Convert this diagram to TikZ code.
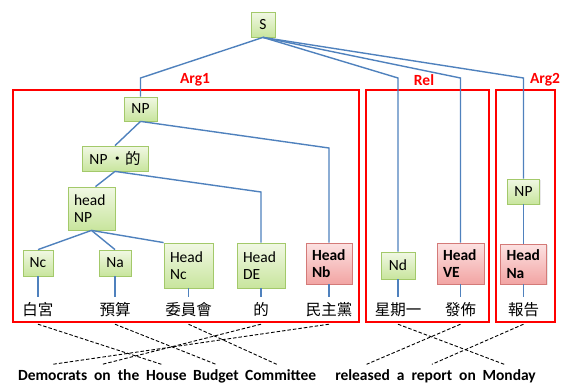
\documentclass[tikz,border=0pt]{standalone}
\usepackage{fontspec}
\setmainfont{Carlito}
\newfontfamily\cjk{Noto Sans CJK TC}
\usetikzlibrary{shadows}

\definecolor{treeblue}{HTML}{4F81BD}
\definecolor{catfillA}{HTML}{F1F8E4}
\definecolor{catfillB}{HTML}{C8E59D}
\definecolor{catedge}{HTML}{A3C96A}
\definecolor{headfillA}{HTML}{FCE2E2}
\definecolor{headfillB}{HTML}{F2A4A3}
\definecolor{headedge}{HTML}{D47A78}

\tikzset{
  basefont/.style={font=\fontsize{15.5}{17.5}\selectfont},
  wh/.style 2 args={minimum width=#1, minimum height=#2},
  catbox/.style={basefont, draw=catedge, line width=0.8pt,
    top color=catfillA, bottom color=catfillB, inner sep=0pt,
    drop shadow={shadow xshift=1pt, shadow yshift=-1pt, opacity=0.18}},
  headbox/.style={draw=headedge, line width=0.8pt,
    top color=headfillA, bottom color=headfillB, inner sep=0pt,
    font=\fontsize{15.5}{17.5}\selectfont\bfseries,
    drop shadow={shadow xshift=1pt, shadow yshift=-1pt, opacity=0.18}},
  twoline/.style={align=left, text width=#1, inner xsep=6pt},
  tree/.style={draw=treeblue, line width=1.4pt},
  argframe/.style={draw=red, line width=2.4pt},
  arglabel/.style={text=red, font=\fontsize{15.5}{17}\selectfont\bfseries, inner sep=0pt},
  zhword/.style={font=\fontsize{15.5}{17}\selectfont\cjk, anchor=base,
    inner xsep=0pt, inner ysep=5pt, text height=13pt, text depth=4pt},
  enword/.style={font=\fontsize{15.5}{17}\selectfont\bfseries, anchor=base,
    inner xsep=0pt, inner ysep=5pt, text height=11pt, text depth=3pt},
  align link/.style={draw=black, dashed, dash pattern=on 3.5pt off 2pt, line width=0.9pt},
}

\begin{document}
\begin{tikzpicture}[x=1pt, y=-1pt]
\useasboundingbox (0,0) rectangle (563,383);

% role frames and their labels
\draw[argframe] (13,90) rectangle (359,322);
\draw[argframe] (366,90) rectangle (489,322);
\draw[argframe] (496,90) rectangle (555,322);
\node[arglabel] (lArgA) at (195,80) {Arg1};
\node[arglabel] (lRel)  at (424,80) {Rel};
\node[arglabel] (lArgB) at (545,80) {Arg2};

% phrase-structure nodes
\node[catbox, wh={24}{25}] (S) at (263,24.5) {S};
\node[catbox, wh={33}{24}] (NP) at (140.5,109) {NP};
\node[catbox, wh={66}{25}] (NPde) at (115,158.5) {NP\hspace{2pt}{\cjk ・的}};
\node[catbox, twoline={35pt}, wh={47}{43}] (hNP) at (91.5,208.5) {head\\NP};
\node[catbox, wh={30}{26}] (Nc) at (38,263) {Nc};
\node[catbox, wh={32}{26}] (Na) at (115,263) {Na};
\node[catbox, twoline={37pt}, wh={49}{45}] (HNc) at (188.5,265.5) {Head\\Nc};
\node[catbox, twoline={36pt}, wh={48}{45}] (HDE) at (261,265.5) {Head\\DE};
\node[headbox, twoline={34pt}, wh={46}{41}] (HNb) at (329,263.5) {Head\\Nb};
\node[catbox, wh={34}{27}] (Nd) at (398,265.5) {Nd};
\node[headbox, twoline={35pt}, wh={47}{41}] (HVE) at (460.5,263.5) {Head\\VE};
\node[catbox, wh={32}{25}] (NPb) at (523.5,191.5) {NP};
\node[headbox, twoline={34pt}, wh={46}{40}] (HNa) at (523.5,264) {Head\\Na};

% Chinese words
\node[zhword] (wBaigong)  at (38,315)    {白宮};
\node[zhword] (wYusuan)   at (115,315)   {預算};
\node[zhword] (wWeiyuan)  at (188.5,315) {委員會};
\node[zhword] (wDe)       at (261,315)   {的};
\node[zhword] (wMinzhu)   at (329,315)   {民主黨};
\node[zhword] (wXingqi)   at (398,315)   {星期一};
\node[zhword] (wFabu)     at (460.5,315) {發佈};
\node[zhword] (wBaogao)   at (523.5,315) {報告};

% English words
\node[enword] (eDemocrats) at (52.7,380.5)  {Democrats};
\node[enword] (eOnA)       at (102.4,380.5) {on};
\node[enword] (eThe)       at (128.6,380.5) {the};
\node[enword] (eHouse)     at (166.4,380.5) {House};
\node[enword] (eBudget)    at (215.9,380.5) {Budget};
\node[enword] (eCommittee) at (280.7,380.5) {Committee};
\node[enword] (eReleased)  at (362.6,380.5) {released};
\node[enword] (eA)         at (400.6,380.5) {a};
\node[enword] (eReport)    at (431.9,380.5) {report};
\node[enword] (eOnB)       at (467.5,380.5) {on};
\node[enword] (eMonday)    at (509.2,380.5) {Monday};

% tree branches
\draw[tree] (S.south) -- (140.5,78) -- (NP.north);
\draw[tree] (S.south) -- (398,78) -- (Nd.north);
\draw[tree] (S.south) -- (460.5,78) -- (HVE.north);
\draw[tree] (S.south) -- (523.5,78) -- (NPb.north);
\draw[tree] (NP.south) -- (NPde.north);
\draw[tree] (NP.south) -- (329,148) -- (HNb.north);
\draw[tree] (NPde.south) -- ([xshift=4pt]hNP.north);
\draw[tree] (NPde.south) -- (261,192) -- (HDE.north);
\draw[tree] (hNP.south) -- (Nc.north);
\draw[tree] (hNP.south) -- (Na.north);
\draw[tree] (hNP.south) -- (HNc.north west);
\draw[tree] (NPb.south) -- (HNa.north);

% terminal stems
\draw[tree] (Nc.south) -- (wBaigong.north);
\draw[tree] (Na.south) -- (wYusuan.north);
\draw[tree] (HNc.south) -- (wWeiyuan.north);
\draw[tree] (HDE.south) -- (wDe.north);
\draw[tree] (HNb.south) -- (wMinzhu.north);
\draw[tree] (Nd.south) -- (wXingqi.north);
\draw[tree] (HVE.south) -- (wFabu.north);
\draw[tree] (HNa.south) -- (wBaogao.north);

% word alignment links
\draw[align link] (wBaigong.south) -- ([xshift=-5pt]eHouse.north);
\draw[align link] (wYusuan.south)  -- (eBudget.north);
\draw[align link] (wWeiyuan.south) -- ([xshift=-4pt]eCommittee.north);
\draw[align link] (wDe.south)      -- (eOnA.north);
\draw[align link] (wMinzhu.south)  -- (eDemocrats.north);
\draw[align link] (wXingqi.south)  -- ([xshift=-5pt]eMonday.north);
\draw[align link] (wFabu.south)    -- ([xshift=4pt]eReleased.north);
\draw[align link] (wBaogao.south)  -- (eReport.north);
\end{tikzpicture}
\end{document}
